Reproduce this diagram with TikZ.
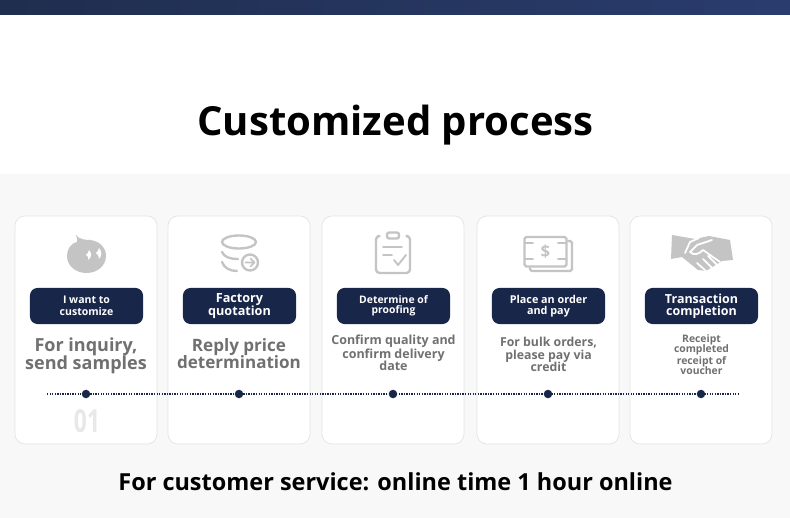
\documentclass[tikz,border=0pt]{standalone}
\usepackage{fontspec}
\setmainfont{Open Sans}
\usetikzlibrary{shapes,arrows.meta}
\definecolor{BarLeft}{RGB}{31,46,78}
\definecolor{BarRight}{RGB}{42,60,110}
\definecolor{PageGray}{RGB}{248,248,248}
\definecolor{CardLine}{RGB}{228,228,228}
\definecolor{Navy}{RGB}{24,38,74}
\definecolor{TextGray}{RGB}{112,112,114}
\definecolor{IconGray}{RGB}{196,196,196}
\definecolor{Faint}{RGB}{232,232,232}
\tikzset{
    card/.style={draw=CardLine,fill=white,line width=0.8pt,rounded corners=0.4cm,minimum width=5.68cm,minimum height=9.12cm,inner sep=0pt},
    pill/.style={fill=Navy,rounded corners=0.3cm,minimum width=4.52cm,minimum height=1.44cm,inner sep=0pt},
    pilltext/.style={text=white,align=center,inner sep=0pt,font=\bfseries\fontsize{#1}{#1}\selectfont},
    bodytext/.style={text=TextGray,align=center,inner sep=0pt,font=\bfseries\fontsize{#1}{#1}\selectfont},
    stepdot/.style={circle,fill=Navy,minimum size=0.34cm,inner sep=0pt},
    iconline/.style={draw=IconGray,line width=2.7pt,line cap=round,line join=round},
}
\begin{document}
\begin{tikzpicture}[x=0.04cm,y=-0.04cm]
    \useasboundingbox (0,0) rectangle (790,518);
    % page background
    \shade[left color=BarLeft,right color=BarRight] (0,0) rectangle (790,15);
    \fill[PageGray] (0,174) rectangle (790,518);

    \node[font=\bfseries\fontsize{45.6}{50}\selectfont,inner sep=0pt] (title) at (395.5,125) {Customized process};

    \node[card] (card1) at (86,330) {};
    \node[card] (card2) at (239,330) {};
    \node[card] (card3) at (393,330) {};
    \node[card] (card4) at (548,330) {};
    \node[card] (card5) at (701,330) {};

    \node[pill] (pill1) at (86.5,306) {};
    \node[pill] (pill2) at (239.5,306) {};
    \node[pill] (pill3) at (393.5,306) {};
    \node[pill] (pill4) at (548.5,306) {};
    \node[pill] (pill5) at (701.5,306) {};

    \node[pilltext=12] (head1) at (pill1) {I want to\\[1.2pt]customize};
    \node[pilltext=14.4] (head2) at (pill2) {Factory\\quotation};
    \node[pilltext=11.8] (head3) at (pill3) {Determine of\\proofing};
    \node[pilltext=12.3] (head4) at (pill4) {Place an order\\and pay};
    \node[pilltext=14.2] (head5) at (701.5,306.5) {Transaction\\completion};

    \node[bodytext=20.5] (body1) at (86,356) {For inquiry,\\send samples};
    \node[bodytext=19.4] (body2) at (239,353.5) {Reply price\\determination};
    \node[bodytext=14.2] (body3) at (393.5,353) {Confirm quality and\\confirm delivery\\date};
    \node[bodytext=14] (body4) at (548.5,354.5) {For bulk orders,\\please pay via\\credit};
    \node[bodytext=11.8] (body5) at (701.5,354.5) {Receipt\\completed\\receipt of\\voucher};

    % time line
    \coordinate (lineA) at (47,394);
    \coordinate (lineB) at (740,394);
    \draw[Navy,line width=1.6pt,dash pattern=on 1.5pt off 1.4pt] (lineA) -- (lineB);
    \node[stepdot] (dot1) at (86,394) {};
    \node[stepdot] (dot2) at (239,394) {};
    \node[stepdot] (dot3) at (393,394) {};
    \node[stepdot] (dot4) at (548,394) {};
    \node[stepdot] (dot5) at (701,394) {};

    \node[text=Faint,font=\bfseries\fontsize{36}{36}\selectfont,inner sep=0pt,transform shape,xscale=0.72] (num1) at (87,421) {01};

    % icon 1
    \fill[IconGray] (76,235) .. controls (79,239) and (84,240) .. (90,240) .. controls (100,241) and (106,248) .. (106,256) .. controls (106,266) and (97,273) .. (86.5,273) .. controls (76,273) and (67,266) .. (67,256) .. controls (67,249) and (71,243) .. (77,242) .. controls (77.5,240) and (77,237) .. (76,235) -- cycle;
    \fill[white] (89,250) .. controls (92,253) and (92,257) .. (88,260) .. controls (89,258) and (88,256) .. (86,255) .. controls (88,254) and (88,252) .. (89,250) -- cycle;
    \fill[white] (99,248) .. controls (102,251) and (102,256) .. (99,259) .. controls (99,256) and (98,255) .. (96,253) .. controls (98,252) and (98,250) .. (99,248) -- cycle;

    % icon 2
    \draw[iconline] (239,242) ellipse (17 and 6.5);
    \draw[iconline] (222,252) .. controls (224,257) and (230,259) .. (238,259);
    \draw[iconline] (222,262) .. controls (224,268) and (230,271) .. (237,271);
    \draw[iconline] (250,262.5) circle (8);
    \draw[draw=IconGray,line width=1.8pt,line cap=round,line join=round] (245.5,262.5) -- (254,262.5) (250.5,258.5) -- (254.5,262.5) -- (250.5,266.5);

    % icon 3
    \draw[iconline,rounded corners=4pt] (378,236) -- (376,236) -- (376,273) -- (410,273) -- (410,236) -- (408,236);
    \draw[iconline,rounded corners=2.5pt] (387,232.5) rectangle (399,238.5);
    \draw[iconline,line width=2.2pt] (383,247) -- (402,247) (383,255) -- (392,255) (394,260) -- (398,265) -- (406,255);

    % icon 4
    \draw[iconline,rounded corners=2pt] (530,268) -- (530,271) -- (572,271) -- (572,241) -- (568,241);
    \draw[iconline,rounded corners=2pt] (524.5,237) rectangle (566.5,266.5);
    \draw[iconline,line width=2pt] (525,243) -- (533,243) (525,259) -- (533,259) (558,243) -- (566,243) (558,259) -- (566,259);
    \node[text=IconGray,font=\bfseries\fontsize{19}{19}\selectfont,inner sep=0pt] (dollar) at (545.5,252) {\$};

    % icon 5
    \fill[IconGray] (672,235) -- (695,239) -- (709,236) -- (730,240) -- (733,260) -- (722,261) -- (706,271) -- (698,270) -- (682,257) -- (671,259) -- cycle;
    \draw[white,line width=2pt,line join=round,line cap=round] (685,253) -- (690,242) -- (699,238) (712,240) -- (697,245) -- (690,252) .. controls (694,256) and (699,254) .. (703,250) -- (720,262) (712,268) -- (703,259) (706,271) -- (697,263) (717,265) -- (708,256);
    \node[font=\bfseries\fontsize{26.7}{30}\selectfont,inner sep=0pt] (service) at (395.5,482) {For customer service: online time 1 hour online};
\end{tikzpicture}
\end{document}
